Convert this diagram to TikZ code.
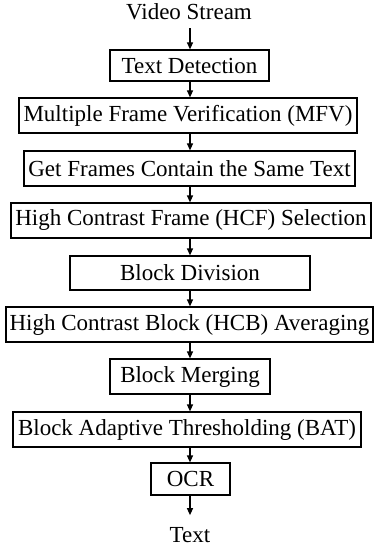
\documentclass[tikz,border=0pt]{standalone}
\usepackage{fontspec}
\setmainfont{Liberation Serif}
\usetikzlibrary{arrows.meta}
\tikzset{
  stagebox/.style={draw=black, line width=1.2pt, inner sep=1pt, align=center,
    font=\fontsize{23pt}{27pt}\selectfont},
  lbl/.style={inner xsep=1pt, font=\fontsize{23pt}{27pt}\selectfont},
  arr/.style={line width=1.2pt, -{Triangle[length=7pt,width=6pt]}}
}
\begin{document}
\begin{tikzpicture}[x=1pt,y=-1pt]
\useasboundingbox (0,0) rectangle (376,548);
\coordinate (axis) at (190,0);
\node[lbl, inner ysep=8.5pt] (vs) at (189,11.5) {Video Stream};
\node[stagebox, minimum width=159pt, minimum height=31pt] (td) at (189.5,65.5) {Text Detection};
\node[stagebox, minimum width=338pt, minimum height=35pt] (mfv) at (188,115.5) {Multiple Frame Verification (MFV)};
\node[stagebox, minimum width=331pt, minimum height=35pt] (gf) at (189.5,168.5) {Get Frames Contain the Same Text};
\node[stagebox, minimum width=360pt, minimum height=35pt] (hcf) at (191,220.5) {High Contrast Frame (HCF) Selection};
\node[stagebox, minimum width=240pt, minimum height=34pt] (bd) at (190,273) {Block Division};
\node[stagebox, minimum width=367pt, minimum height=35pt] (hcb) at (189.5,324.5) {High Contrast Block (HCB) Averaging};
\node[stagebox, minimum width=160pt, minimum height=35pt] (bm) at (190,376.5) {Block Merging};
\node[stagebox, minimum width=348pt, minimum height=35pt] (bat) at (187,429.5) {Block Adaptive Thresholding (BAT)};
\node[stagebox, minimum width=79pt, minimum height=32pt] (ocr) at (190.5,479) {OCR};
\node[lbl, inner ysep=12pt] (txt) at (190,535) {Text};
\draw[arr] (axis |- vs.south) -- (axis |- td.north);
\draw[arr] (axis |- td.south) -- (axis |- mfv.north);
\draw[arr] (axis |- mfv.south) -- (axis |- gf.north);
\draw[arr] (axis |- gf.south) -- (axis |- hcf.north);
\draw[arr] (axis |- hcf.south) -- (axis |- bd.north);
\draw[arr] (axis |- bd.south) -- (axis |- hcb.north);
\draw[arr] (axis |- hcb.south) -- (axis |- bm.north);
\draw[arr] (axis |- bm.south) -- (axis |- bat.north);
\draw[arr] (axis |- bat.south) -- (axis |- ocr.north);
\draw[arr] (axis |- ocr.south) -- (axis |- txt.north);
\end{tikzpicture}
\end{document}
